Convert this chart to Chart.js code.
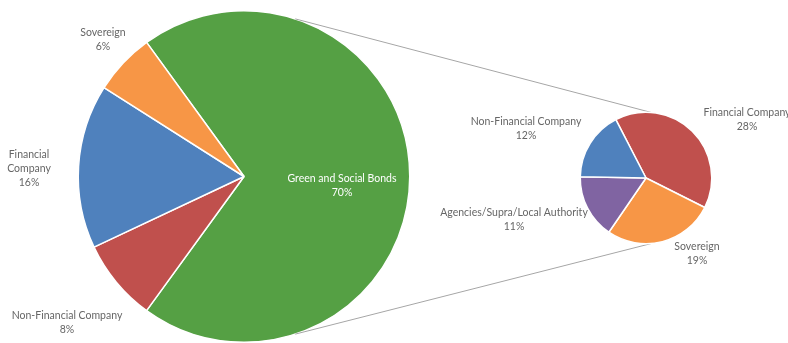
<!DOCTYPE html>
<html>
<head>
<meta charset="utf-8">
<script src="https://cdn.jsdelivr.net/npm/chart.js@4"></script>
<style>
    html, body { margin: 0; padding: 0; background: #fff; }
    #wrap { position: relative; width: 788px; height: 343px; }
    #wrap canvas { position: absolute; left: 0; top: 0; }
</style>
</head>
<body>
<div id="wrap">
    <canvas id="mainPie" width="788" height="343"></canvas>
    <canvas id="splitPie" width="788" height="343"></canvas>
</div>
<script>
// Pie principal (% din total)
const mainLabels = ['Green and Social Bonds', 'Non-Financial Company', 'Financial Company', 'Sovereign'];
const mainValues = [70, 8, 16, 6];
const mainColors = ['#55A044', '#C0504D', '#4F81BD', '#F79646'];

// Pie secundar - defalcarea Green and Social Bonds (% din total)
const splitLabels = ['Financial Company', 'Sovereign', 'Agencies/Supra/Local Authority', 'Non-Financial Company'];
const splitValues = [28, 19, 11, 12];
const splitColors = ['#C0504D', '#F79646', '#8064A2', '#4F81BD'];

// Pozitia etichetelor fata de centrul pie-ului (prima linie a textului)
const mainLabelOffsets = [[98, 2], [-177, 139], [-215, -22], [-141, -144]];
const mainLabelLines = [null, null, ['Financial', 'Company'], null];
const splitLabelOffsets = [[101, -65], [51, 69], [-132, 35], [-120, -56]];

const FONT = '10.5px Lato';
const LABEL_COLOR = '#666666';
const LINE_H = 14;

function drawLabels(chart, labels, values, offsets, lines, insideIdx) {
    const ctx = chart.ctx;
    const arc = chart.getDatasetMeta(0).data[0];
    ctx.save();
    ctx.font = FONT;
    ctx.textAlign = 'center';
    ctx.textBaseline = 'middle';
    labels.forEach((lbl, i) => {
        const rows = (lines && lines[i]) ? lines[i].slice() : [lbl];
        rows.push(values[i] + '%');
        ctx.fillStyle = i === insideIdx ? '#ffffff' : LABEL_COLOR;
        rows.forEach((t, k) => {
            ctx.fillText(t, arc.x + offsets[i][0], arc.y + offsets[i][1] + k * LINE_H);
        });
    });
    ctx.restore();
}

const baseOptions = {
    responsive: false,
    animation: false,
    events: [],
    plugins: { legend: { display: false }, tooltip: { enabled: false } },
};

const mainChart = new Chart(document.getElementById('mainPie'), {
    type: 'pie',
    data: {
        labels: mainLabels,
        datasets: [{ data: mainValues, backgroundColor: mainColors, borderColor: '#ffffff', borderWidth: 1.5 }],
    },
    options: {
        ...baseOptions,
        rotation: -36, // felia verde centrata pe orizontala, spre dreapta
        layout: { padding: { left: 77.5, right: 377.5, top: 10, bottom: 0 } },
    },
    plugins: [{
        id: 'mainLabels',
        afterDatasetsDraw: (chart) => drawLabels(chart, mainLabels, mainValues, mainLabelOffsets, mainLabelLines, 0),
    }],
});

// Liniile care leaga felia verde de pie-ul secundar
const seriesLines = {
    id: 'seriesLines',
    beforeDatasetsDraw: (chart) => {
        const big = mainChart.getDatasetMeta(0).data[0];
        const small = chart.getDatasetMeta(0).data[0];
        const a1 = 72 * Math.PI / 180;
        const a2 = 85.5 * Math.PI / 180;
        const ctx = chart.ctx;
        ctx.save();
        ctx.strokeStyle = '#A6A6A6';
        ctx.lineWidth = 1;
        [-1, 1].forEach((s) => {
            ctx.beginPath();
            ctx.moveTo(big.x + Math.cos(s * a1) * big.outerRadius, big.y + Math.sin(s * a1) * big.outerRadius);
            ctx.lineTo(small.x + Math.cos(s * a2) * small.outerRadius, small.y + Math.sin(s * a2) * small.outerRadius);
            ctx.stroke();
        });
        ctx.restore();
    },
};

new Chart(document.getElementById('splitPie'), {
    type: 'pie',
    data: {
        labels: splitLabels,
        datasets: [{ data: splitValues, backgroundColor: splitColors, borderColor: '#ffffff', borderWidth: 1.5 }],
    },
    options: {
        ...baseOptions,
        rotation: -27.3,
        layout: { padding: { left: 579.5, right: 75.5, top: 111.5, bottom: 98.5 } },
    },
    plugins: [seriesLines, {
        id: 'splitLabels',
        afterDatasetsDraw: (chart) => drawLabels(chart, splitLabels, splitValues, splitLabelOffsets, null, -1),
    }],
});
</script>
</body>
</html>
